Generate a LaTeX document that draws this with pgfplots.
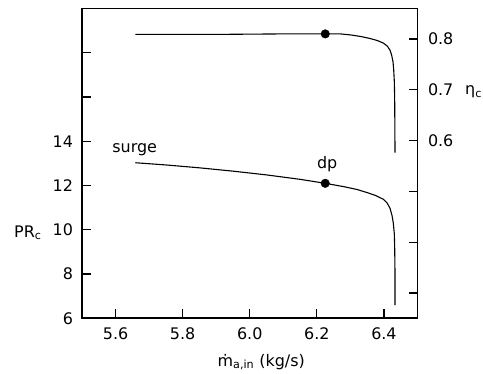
\documentclass[border=0pt]{standalone}
\usepackage{fontspec}
\setmainfont{DejaVu Sans}
\usepackage{pgfplots}
\pgfplotsset{compat=1.18}
\begin{document}
\begin{tikzpicture}
\useasboundingbox (-82bp,-55.7bp) rectangle (401bp,318.3bp);
\begin{axis}[
 at={(0,0)}, anchor=south west, scale only axis,
 width=335.5bp, height=309.8bp,
 xmin=5.5, xmax=6.5, ymin=6, ymax=20,
 xtick={5.6,5.8,6.0,6.2,6.4}, xticklabels={5.6,5.8,6.0,6.2,6.4},
 ytick={6,8,10,12,14,16,18}, yticklabels={6,8,10,12,14,,},
 xtick pos=bottom, ytick pos=left, tick align=inside,
 minor tick num=0,
 major tick length=9bp,
 axis line style={line width=1.6bp},
 major tick style={line width=1.2bp, black},
 tick label style={font=\fontsize{16}{19}\selectfont},
 /pgf/number format/assume math mode=true,
 xticklabel style={yshift=-6bp},
 yticklabel style={xshift=-5.5bp},
 clip=false,
]
\addplot[black, line width=1.1bp] coordinates {
(5.659,13.03) (5.75,12.93) (5.85,12.80) (5.95,12.65) (6.05,12.48) (6.15,12.28)
(6.225,12.1) (6.28,11.95) (6.32,11.82) (6.35,11.68) (6.375,11.55) (6.398,11.38)
(6.41,11.2) (6.418,10.97) (6.424,10.65) (6.428,10.29) (6.431,9.8) (6.432,9.2)
(6.433,8.0) (6.433,6.6)};
\addplot[black, only marks, mark=*, mark size=4.3bp] coordinates {(6.225,12.1)};
\node[anchor=base west, inner sep=0, font=\fontsize{16}{19}\selectfont] at (axis cs:5.59,13.51) {surge};
\node[anchor=base west, inner sep=0, font=\fontsize{16}{19}\selectfont] at (axis cs:6.2,12.78) {dp};
\end{axis}
\begin{axis}[
 at={(0,0)}, anchor=south west, scale only axis,
 width=335.5bp, height=309.8bp,
 xmin=5.5, xmax=6.5, ymin=0.25, ymax=0.86,
 axis x line=none, axis y line*=right,
 ytick={0.3,0.4,0.5,0.6,0.7,0.8}, yticklabels={,,,0.6,0.7,0.8},
 tick align=inside,
 minor tick num=0,
 major tick length=9bp,
 axis line style={line width=1.6bp, -},
 major tick style={line width=1.2bp, black},
 tick label style={font=\fontsize{16}{19}\selectfont},
 /pgf/number format/assume math mode=true,
 yticklabel style={xshift=7bp},
 clip=false,
]
\addplot[black, line width=1.1bp] coordinates {
(5.659,0.809) (5.9,0.809) (6.1,0.810) (6.225,0.810) (6.27,0.810) (6.3,0.808)
(6.33,0.805) (6.358,0.801) (6.38,0.797) (6.398,0.792) (6.41,0.786) (6.418,0.778)
(6.423,0.768) (6.427,0.755) (6.429,0.740) (6.431,0.715) (6.432,0.68) (6.433,0.576)};
\addplot[black, only marks, mark=*, mark size=4.3bp] coordinates {(6.225,0.810)};
\end{axis}
\node[anchor=base west, inner sep=0, font=\fontsize{16}{19}\selectfont] at (-68bp,81bp) {PR\textsubscript{c}};
\node[anchor=base west, inner sep=0, font=\fontsize{16}{19}\selectfont] at (383bp,223.3bp) {η\textsubscript{c}};
\node[anchor=base east, inner sep=0, font=\fontsize{16}{19}\selectfont] at (223bp,-47.7bp) {ṁ\textsubscript{a,in} (kg/s)};
\end{tikzpicture}
\end{document}
